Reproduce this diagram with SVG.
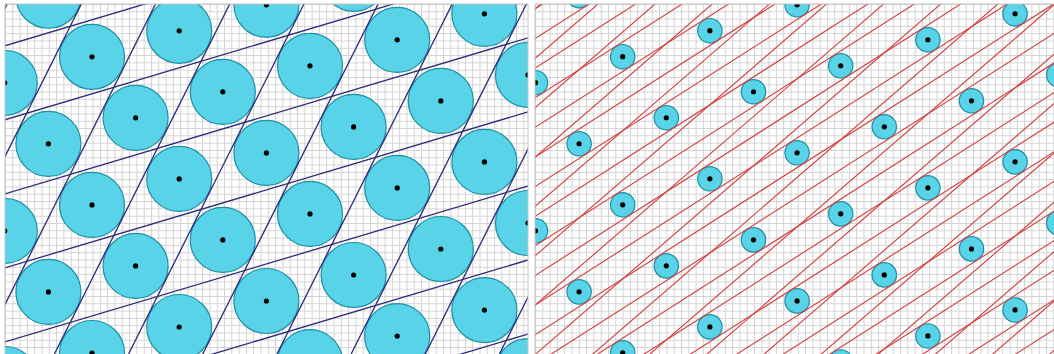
<svg xmlns="http://www.w3.org/2000/svg" xmlns:xlink="http://www.w3.org/1999/xlink" width="1054" height="354" viewBox="0 0 1054 354">
<style>
.grid{stroke:#d2d2d2;stroke-width:1;fill:none}
.lb{stroke:#2a2a78;stroke-width:1.3;fill:none}
.lr{stroke:#d23c3c;stroke-width:1.1;fill:none}
.disc{fill:#58d3e8;stroke:#1e8ea3;stroke-width:1.2}
.dot{fill:#000}
.frame{fill:none;stroke:#c4c4c4;stroke-width:1}
</style>
<defs>
<pattern id="gridL" patternUnits="userSpaceOnUse" x="5" y="4" width="7.3" height="7.3"><path class="grid" d="M0 0.5H7.3M0.5 0V7.3"/></pattern>
<pattern id="gridR" patternUnits="userSpaceOnUse" x="535" y="4" width="7.3" height="7.3"><path class="grid" d="M0 0.5H7.3M0.5 0V7.3"/></pattern>
<clipPath id="clipL"><rect x="5" y="4" width="523" height="350"/></clipPath>
<clipPath id="clipR"><rect x="535" y="4" width="519" height="350"/></clipPath>
<g id="nodeL"><circle class="disc" r="32.5"/><circle class="dot" r="2.6"/></g>
<g id="nodeR"><circle class="disc" r="12.2"/><circle class="dot" r="2.6"/></g>
<line id="lA" x1="0" y1="121.26" x2="535" y2="-38.26"/>
<line id="lD" x1="157.54" y1="0" x2="-19.76" y2="354"/>
<line id="lU" x1="530" y1="101.02" x2="1060" y2="-237.04"/>
<line id="lV" x1="530" y1="161.51" x2="1060" y2="-296.57"/>
</defs>
<rect width="1054" height="354" fill="#fff"/>
<g id="panel-left" clip-path="url(#clipL)">
<rect x="5" y="4" width="523" height="350" fill="url(#gridL)"/>
<g id="nodes-left">
<use id="nL01" href="#nodeL" x="4.8" y="82.8"/><use id="nL02" href="#nodeL" x="4.8" y="230.9"/><use id="nL03" href="#nodeL" x="4.8" y="379"/>
<use id="nL04" href="#nodeL" x="48.4" y="-4.25"/><use id="nL05" href="#nodeL" x="48.4" y="143.85"/><use id="nL06" href="#nodeL" x="48.4" y="291.95"/>
<use id="nL07" href="#nodeL" x="92" y="56.8"/><use id="nL08" href="#nodeL" x="92" y="204.9"/><use id="nL09" href="#nodeL" x="92" y="353"/>
<use id="nL10" href="#nodeL" x="135.6" y="117.85"/><use id="nL11" href="#nodeL" x="135.6" y="265.95"/>
<use id="nL12" href="#nodeL" x="179.2" y="30.8"/><use id="nL13" href="#nodeL" x="179.2" y="178.9"/><use id="nL14" href="#nodeL" x="179.2" y="327"/>
<use id="nL15" href="#nodeL" x="222.8" y="91.85"/><use id="nL16" href="#nodeL" x="222.8" y="239.95"/>
<use id="nL17" href="#nodeL" x="266.4" y="4.8"/><use id="nL18" href="#nodeL" x="266.4" y="152.9"/><use id="nL19" href="#nodeL" x="266.4" y="301"/>
<use id="nL20" href="#nodeL" x="310" y="65.85"/><use id="nL21" href="#nodeL" x="310" y="213.95"/><use id="nL22" href="#nodeL" x="310" y="362.05"/>
<use id="nL23" href="#nodeL" x="353.6" y="-21.2"/><use id="nL24" href="#nodeL" x="353.6" y="126.9"/><use id="nL25" href="#nodeL" x="353.6" y="275"/>
<use id="nL26" href="#nodeL" x="397.2" y="39.85"/><use id="nL27" href="#nodeL" x="397.2" y="187.95"/><use id="nL28" href="#nodeL" x="397.2" y="336.05"/>
<use id="nL29" href="#nodeL" x="440.8" y="100.9"/><use id="nL30" href="#nodeL" x="440.8" y="249"/>
<use id="nL31" href="#nodeL" x="484.4" y="13.85"/><use id="nL32" href="#nodeL" x="484.4" y="161.95"/><use id="nL33" href="#nodeL" x="484.4" y="310.05"/>
<use id="nL34" href="#nodeL" x="528" y="74.9"/><use id="nL35" href="#nodeL" x="528" y="223"/><use id="nL36" href="#nodeL" x="528" y="371.1"/>
</g>
<g id="lines-left" class="lb">
<use href="#lA" transform="translate(0,-74.05)"/><use href="#lA"/><use href="#lA" transform="translate(0,74.05)"/><use href="#lA" transform="translate(0,148.1)"/><use href="#lA" transform="translate(0,222.15)"/><use href="#lA" transform="translate(0,296.2)"/><use href="#lA" transform="translate(0,370.25)"/>
<use href="#lD" transform="translate(-148.36,0)"/><use href="#lD" transform="translate(-74.18,0)"/><use href="#lD"/><use href="#lD" transform="translate(74.18,0)"/><use href="#lD" transform="translate(148.36,0)"/><use href="#lD" transform="translate(222.54,0)"/><use href="#lD" transform="translate(296.72,0)"/><use href="#lD" transform="translate(370.9,0)"/><use href="#lD" transform="translate(445.08,0)"/><use href="#lD" transform="translate(519.26,0)"/>
</g>
</g>
<rect class="frame" x="5" y="4" width="523" height="355"/>
<g id="panel-right" clip-path="url(#clipR)">
<rect x="535" y="4" width="519" height="350" fill="url(#gridR)"/>
<g id="nodes-right">
<use id="nR01" href="#nodeR" x="535.5" y="82.7"/><use id="nR02" href="#nodeR" x="535.5" y="230.8"/>
<use id="nR03" href="#nodeR" x="579.1" y="-4.35"/><use id="nR04" href="#nodeR" x="579.1" y="143.75"/><use id="nR05" href="#nodeR" x="579.1" y="291.85"/>
<use id="nR06" href="#nodeR" x="622.7" y="56.7"/><use id="nR07" href="#nodeR" x="622.7" y="204.8"/><use id="nR08" href="#nodeR" x="622.7" y="352.9"/>
<use id="nR09" href="#nodeR" x="666.3" y="117.75"/><use id="nR10" href="#nodeR" x="666.3" y="265.85"/>
<use id="nR11" href="#nodeR" x="709.9" y="30.7"/><use id="nR12" href="#nodeR" x="709.9" y="178.8"/><use id="nR13" href="#nodeR" x="709.9" y="326.9"/>
<use id="nR14" href="#nodeR" x="753.5" y="91.75"/><use id="nR15" href="#nodeR" x="753.5" y="239.85"/>
<use id="nR16" href="#nodeR" x="797.1" y="4.7"/><use id="nR17" href="#nodeR" x="797.1" y="152.8"/><use id="nR18" href="#nodeR" x="797.1" y="300.9"/>
<use id="nR19" href="#nodeR" x="840.7" y="65.75"/><use id="nR20" href="#nodeR" x="840.7" y="213.85"/><use id="nR21" href="#nodeR" x="840.7" y="361.95"/>
<use id="nR22" href="#nodeR" x="884.3" y="126.8"/><use id="nR23" href="#nodeR" x="884.3" y="274.9"/>
<use id="nR24" href="#nodeR" x="927.9" y="39.75"/><use id="nR25" href="#nodeR" x="927.9" y="187.85"/><use id="nR26" href="#nodeR" x="927.9" y="335.95"/>
<use id="nR27" href="#nodeR" x="971.5" y="100.8"/><use id="nR28" href="#nodeR" x="971.5" y="248.9"/>
<use id="nR29" href="#nodeR" x="1015.1" y="13.75"/><use id="nR30" href="#nodeR" x="1015.1" y="161.85"/><use id="nR31" href="#nodeR" x="1015.1" y="309.95"/>
<use id="nR32" href="#nodeR" x="1058.7" y="74.8"/><use id="nR33" href="#nodeR" x="1058.7" y="222.9"/>
</g>
<g id="lines-right" class="lr">
<use href="#lU" transform="translate(0,-88.86)"/><use href="#lU" transform="translate(0,-59.24)"/><use href="#lU" transform="translate(0,-29.62)"/><use href="#lU"/><use href="#lU" transform="translate(0,29.62)"/><use href="#lU" transform="translate(0,59.24)"/><use href="#lU" transform="translate(0,88.86)"/><use href="#lU" transform="translate(0,118.48)"/><use href="#lU" transform="translate(0,148.1)"/><use href="#lU" transform="translate(0,177.72)"/><use href="#lU" transform="translate(0,207.34)"/><use href="#lU" transform="translate(0,236.96)"/><use href="#lU" transform="translate(0,266.58)"/><use href="#lU" transform="translate(0,296.2)"/><use href="#lU" transform="translate(0,325.82)"/><use href="#lU" transform="translate(0,355.44)"/><use href="#lU" transform="translate(0,385.06)"/><use href="#lU" transform="translate(0,414.68)"/><use href="#lU" transform="translate(0,444.3)"/><use href="#lU" transform="translate(0,473.92)"/><use href="#lU" transform="translate(0,503.54)"/><use href="#lU" transform="translate(0,533.16)"/><use href="#lU" transform="translate(0,562.78)"/>
<use href="#lV" transform="translate(0,-148.11)"/><use href="#lV" transform="translate(0,-98.74)"/><use href="#lV" transform="translate(0,-49.37)"/><use href="#lV"/><use href="#lV" transform="translate(0,49.37)"/><use href="#lV" transform="translate(0,98.74)"/><use href="#lV" transform="translate(0,148.11)"/><use href="#lV" transform="translate(0,197.48)"/><use href="#lV" transform="translate(0,246.85)"/><use href="#lV" transform="translate(0,296.22)"/><use href="#lV" transform="translate(0,345.59)"/><use href="#lV" transform="translate(0,394.96)"/><use href="#lV" transform="translate(0,444.33)"/><use href="#lV" transform="translate(0,493.7)"/><use href="#lV" transform="translate(0,543.07)"/><use href="#lV" transform="translate(0,592.44)"/><use href="#lV" transform="translate(0,641.81)"/>
</g>
</g>
<rect class="frame" x="535" y="4" width="525" height="355"/>
</svg>
